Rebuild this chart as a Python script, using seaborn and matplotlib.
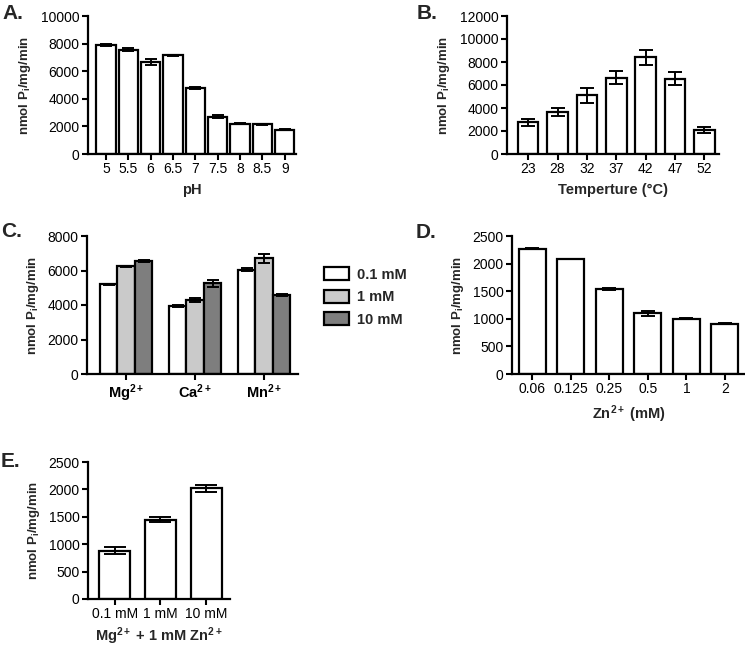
import matplotlib
matplotlib.use("Agg")
import matplotlib.pyplot as plt
import seaborn as sns
import pandas as pd
import numpy as np

sns.set_theme(style="ticks")
plt.rcParams['font.family'] = ['Liberation Sans', 'DejaVu Sans']
plt.rcParams['mathtext.fontset'] = 'custom'
plt.rcParams['mathtext.rm'] = 'Liberation Sans'
plt.rcParams['mathtext.bf'] = 'Liberation Sans:bold'
plt.rcParams['mathtext.it'] = 'Liberation Sans:italic'

# ---------------- data ----------------
ph_labels = ["5", "5.5", "6", "6.5", "7", "7.5", "8", "8.5", "9"]
ph_values = [7900, 7550, 6650, 7150, 4800, 2700, 2200, 2150, 1750]
ph_errors = [60, 100, 220, 40, 90, 120, 40, 30, 30]

temp_labels = ["23", "28", "32", "37", "42", "47", "52"]
temp_values = [2750, 3650, 5100, 6650, 8400, 6550, 2100]
temp_errors = [300, 350, 650, 550, 650, 550, 250]

ion_labels = ["Mg$^{\\mathbf{2+}}$", "Ca$^{\\mathbf{2+}}$", "Mn$^{\\mathbf{2+}}$"]
conc_labels = ["0.1 mM", "1 mM", "10 mM"]
ion_values_01 = [5200, 3950, 6050]
ion_values_1 = [6250, 4300, 6700]
ion_values_10 = [6550, 5250, 4600]
ion_errors_01 = [30, 60, 100]
ion_errors_1 = [30, 100, 250]
ion_errors_10 = [40, 200, 60]

zn_labels = ["0.06", "0.125", "0.25", "0.5", "1", "2"]
zn_values = [2270, 2080, 1540, 1100, 1000, 910]
zn_errors = [5, 5, 20, 50, 10, 10]

mgzn_labels = ["0.1 mM", "1 mM", "10 mM"]
mgzn_values = [880, 1450, 2020]
mgzn_errors = [60, 50, 60]

ylab = "nmol P$_\\mathbf{i}$/mg/min"

W, H = 745, 649
fig = plt.figure(figsize=(W / 100, H / 100), dpi=100)


def add_ax(x0, x1, ytop, ybot):
    return fig.add_axes([x0 / W, 1 - ybot / H, (x1 - x0) / W, (ybot - ytop) / H])


def style(ax, ymax, ystep, xlim, labelpad):
    ax.set_ylim(0, ymax)
    ax.set_yticks(np.arange(0, ymax + 1, ystep))
    ax.set_xlim(*xlim)
    for s in ["top", "right"]:
        ax.spines[s].set_visible(False)
    for s in ["left", "bottom"]:
        ax.spines[s].set_linewidth(1.6)
        ax.spines[s].set_color("black")
    ax.tick_params(axis="both", direction="out", length=4, width=1.5,
                   colors="black", labelsize=10, pad=2)
    ax.set_ylabel(ylab, fontsize=9.5, fontweight="bold", labelpad=labelpad)


def errbars(ax, patches, vals, errs, capsize):
    xs = [p.get_x() + p.get_width() / 2 for p in patches]
    ax.errorbar(xs, vals, yerr=errs, fmt="none", ecolor="black",
                elinewidth=1.4, capsize=capsize, capthick=1.4, zorder=3)


def simple_panel(ax, labels, vals, errs, width, capsize):
    df = pd.DataFrame({"x": labels, "y": vals})
    sns.barplot(data=df, x="x", y="y", ax=ax, color="white", edgecolor="black",
                linewidth=1.6, width=width, errorbar=None, saturation=1)
    errbars(ax, ax.patches, vals, errs, capsize)


# A
axA = add_ax(88, 296, 16, 154)
simple_panel(axA, ph_labels, ph_values, ph_errors, 0.86, 4)
style(axA, 10000, 2000, (-0.8, 8.5), 6)
axA.set_xlabel("pH", fontsize=10.5, fontweight="bold", labelpad=5)

# B
axB = add_ax(507, 719, 16, 154)
simple_panel(axB, temp_labels, temp_values, temp_errors, 0.7, 5)
style(axB, 12000, 2000, (-0.72, 6.5), 6)
axB.set_xlabel("Temperture (°C)", fontsize=10.5, fontweight="bold", labelpad=5)

# C
axC = add_ax(87, 298, 236, 374)
dfC = pd.DataFrame({
    "ion": ion_labels * 3,
    "conc": [c for c in conc_labels for _ in ion_labels],
    "y": ion_values_01 + ion_values_1 + ion_values_10,
})
sns.barplot(data=dfC, x="ion", y="y", hue="conc", ax=axC,
            palette=["white", "#cacaca", "#7e7e7e"], edgecolor="black",
            linewidth=1.6, width=0.76, errorbar=None, saturation=1)
for cont, v, e in zip(axC.containers,
                      [ion_values_01, ion_values_1, ion_values_10],
                      [ion_errors_01, ion_errors_1, ion_errors_10]):
    errbars(axC, cont.patches, v, e, 4)
style(axC, 8000, 2000, (-0.565, 2.49), 5)
axC.set_xlabel("")
axC.tick_params(axis="x", labelsize=10.5)
for t in axC.get_xticklabels():
    t.set_fontweight("bold")
axC.legend(title=None, frameon=False, loc="upper left", bbox_to_anchor=(1.06, 0.87),
           prop={"weight": "bold", "size": 10.5}, handlelength=1.7,
           handleheight=1.0, handletextpad=0.6, labelspacing=0.55)

# D
axD = add_ax(512, 745, 236, 374)
simple_panel(axD, zn_labels, zn_values, zn_errors, 0.7, 5)
style(axD, 2500, 500, (-0.53, 5.52), 5)
axD.set_xlabel("Zn$^{\\mathbf{2+}}$ (mM)", fontsize=10.5, fontweight="bold", labelpad=5)

# E
axE = add_ax(88, 230, 462, 599)
simple_panel(axE, mgzn_labels, mgzn_values, mgzn_errors, 0.68, 8)
style(axE, 2500, 500, (-0.58, 2.52), 5)
axE.set_xlabel("Mg$^{\\mathbf{2+}}$ + 1 mM Zn$^{\\mathbf{2+}}$", fontsize=10.5,
               fontweight="bold", labelpad=3)

# panel letters
for lab, x, y in [("A.", 2, 4), ("B.", 417, 4), ("C.", 1, 222), ("D.", 416, 223), ("E.", 1, 452)]:
    fig.text(x / W, 1 - y / H, lab, fontsize=15, fontweight="bold", va="top", ha="left")

fig.savefig("out.png", dpi=100, facecolor="white")
